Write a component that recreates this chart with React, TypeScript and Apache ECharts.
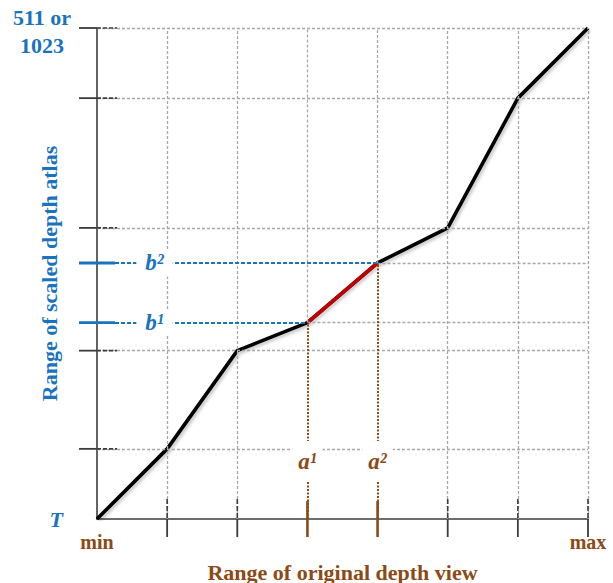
import React, { useEffect, useRef } from "react";
import * as echarts from "echarts";

// ---- data ----
const xLevels = [0, 1, 2, 3, 4, 5, 6, 7];
const mapping = [0, 1.0, 2.4, 2.8, 3.65, 4.15, 6.0, 7.0];
const grayYTicks = [1.0, 2.4, 4.15, 6.0, 7.0];
const grayXTicks = [1, 2, 5, 6, 7];
const highlightX = [3, 4];
const aLabels = ["a\u00B9", "a\u00B2"];
const bLabels = ["b\u00B9", "b\u00B2"];
const xEndLabels = ["min", "max"];
const yTopLabel = "511 or\n1023";
const yBottomLabel = "T";
const xName = "Range of original depth view";
const yName = "Range of scaled depth atlas";

// ---- style ----
const BLUE = "#1A73BE";
const BROWN = "#8C4A17";
const GRID = "#A8A8A8";
const AXIS = "#3C3C3C";
const FONT = "Liberation Serif";
const XMIN = 0;
const XMAX = 7;
const YMIN = 0;
const YMAX = 7;
const LABEL_OFFSET = 0.82;
const TICK_OUT = 18;
const TICK_IN = 20;

export default function App() {
  const ref = useRef<HTMLDivElement>(null);

  useEffect(() => {
    document.body.style.margin = "0";
    if (!ref.current) return;
    const chart = echarts.init(ref.current, undefined, { renderer: "svg" });

    const bLevels = highlightX.map((x) => mapping[xLevels.indexOf(x)]);

    // grid & guide lines
    const gray = { color: GRID, width: 1.3, type: [3, 2] as number[] };
    const markData: any[] = [];
    grayYTicks.forEach((y) => {
      markData.push([{ coord: [XMIN, y], lineStyle: gray }, { coord: [XMAX, y] }]);
    });
    xLevels.forEach((x) => {
      if (x === XMIN) return;
      if (highlightX.includes(x)) return;
      markData.push([{ coord: [x, YMIN], lineStyle: gray }, { coord: [x, YMAX] }]);
    });
    highlightX.forEach((x, i) => {
      const m = bLevels[i];
      markData.push([{ coord: [x, m], lineStyle: gray }, { coord: [x, YMAX] }]);
      markData.push([{ coord: [x, m], lineStyle: gray }, { coord: [XMAX, m] }]);
    });
    highlightX.forEach((x, i) => {
      const m = bLevels[i];
      markData.push([{ coord: [XMIN, m], lineStyle: { color: BLUE, width: 2, type: [4, 2] } }, { coord: [x, m] }]);
      markData.push([{ coord: [x, YMIN], lineStyle: { color: BROWN, width: 2, type: [2, 1.5] } }, { coord: [x, m] }]);
    });

    const lineData = xLevels.map((x, i) => [x, mapping[i]]);
    const redData = highlightX.map((x, i) => [x, bLevels[i]]);

    const labelCommon = {
      show: true,
      position: "inside" as const,
      formatter: (p: any) => p.name,
      fontWeight: "bold" as const,
      fontStyle: "italic" as const,
      fontSize: 23,
      fontFamily: FONT,
      backgroundColor: "#ffffff",
      opacity: 1,
    };

    const shadow = { shadowColor: "rgba(0,0,0,0.22)", shadowBlur: 3, shadowOffsetX: 2, shadowOffsetY: 2 };

    chart.setOption({
      animation: false,
      grid: { left: 97, top: 28, width: 491, height: 491, containLabel: false, outerBoundsMode: "none" },
      xAxis: {
        type: "value",
        min: XMIN,
        max: XMAX,
        splitLine: { show: false },
        axisTick: { show: false },
        axisLine: { show: true, onZero: false, lineStyle: { color: AXIS, width: 1.6 } },
        axisLabel: {
          show: true,
          customValues: [XMIN, XMAX],
          formatter: (v: number) => (v === XMIN ? xEndLabels[0] : xEndLabels[1]),
          color: BROWN,
          fontWeight: "bold",
          fontSize: 20,
          fontFamily: FONT,
          margin: 13,
        },
        name: xName,
        nameLocation: "middle",
        nameGap: 42,
        nameMoveOverlap: false,
        nameTextStyle: { color: BROWN, fontWeight: "bold", fontSize: 22, fontFamily: FONT },
      },
      yAxis: {
        type: "value",
        min: YMIN,
        max: YMAX,
        splitLine: { show: false },
        axisTick: { show: false },
        axisLine: { show: true, onZero: false, lineStyle: { color: AXIS, width: 1.6 } },
        axisLabel: {
          show: true,
          customValues: [YMIN, YMAX],
          formatter: (v: number) => (v === YMAX ? "{top|" + yTopLabel.split("\n").join("}\n{top|") + "}" : "{t|" + yBottomLabel + "}"),
          rich: {
            top: {
              color: BLUE,
              fontWeight: "bold",
              fontSize: 22,
              lineHeight: 28,
              fontFamily: FONT,
              align: "center",
              width: 70,
            },
            t: {
              color: BLUE,
              fontWeight: "bold",
              fontStyle: "italic",
              fontSize: 22,
              fontFamily: FONT,
              align: "right",
              width: 70,
              padding: [0, 14, 6, 0],
            },
          },
          margin: 20,
          align: "right",
          padding: [7, 0, 0, 0],
        },
        name: yName,
        nameLocation: "middle",
        nameGap: 37,
        nameMoveOverlap: false,
        nameTextStyle: { color: BLUE, fontWeight: "bold", fontSize: 22, fontFamily: FONT },
      },
      series: [
        {
          type: "line",
          data: [],
          silent: true,
          z: 1,
          markLine: {
            silent: true,
            symbol: ["none", "none"],
            label: { show: false },
            emphasis: { disabled: true },
            animation: false,
            data: markData,
          },
        },
        {
          type: "line",
          data: lineData,
          symbol: "none",
          silent: true,
          z: 3,
          lineStyle: { color: "#000", width: 3.6, ...shadow },
        },
        {
          type: "line",
          data: redData,
          symbol: "none",
          silent: true,
          z: 4,
          lineStyle: { color: "#C00000", width: 3.6 },
        },
        {
          type: "scatter",
          z: 5,
          silent: true,
          symbolSize: 1,
          itemStyle: { color: "#ffffff", opacity: 1 },
          data: highlightX.map((x, i) => ({ name: bLabels[i], value: [LABEL_OFFSET, bLevels[i]] })),
          label: { ...labelCommon, color: BLUE, padding: [2, 9] },
        },
        {
          type: "scatter",
          z: 5,
          silent: true,
          symbolSize: 1,
          itemStyle: { color: "#ffffff", opacity: 1 },
          data: highlightX.map((x, i) => ({ name: aLabels[i], value: [x, LABEL_OFFSET] })),
          label: { ...labelCommon, color: BROWN, padding: [9, 6] },
        },
      ],
    });

    // ticks placed through the axis scales
    const toPx = (v: number[]) => chart.convertToPixel({ xAxisIndex: 0, yAxisIndex: 0 }, v) as number[];
    const g: any[] = [];
    const seg = (x1: number, y1: number, x2: number, y2: number, stroke: string, lineWidth: number, dash?: number[]) => ({
      type: "line",
      silent: true,
      z: 10,
      shape: { x1, y1, x2, y2 },
      style: { stroke, lineWidth, lineDash: dash },
    });
    grayYTicks.forEach((y) => {
      const [px, py] = toPx([XMIN, y]);
      g.push(seg(px - TICK_OUT, py, px, py, AXIS, 1.8));
      g.push(seg(px, py, px + TICK_IN, py, AXIS, 1.6, [4, 2]));
    });
    grayXTicks.forEach((x) => {
      const [px, py] = toPx([x, YMIN]);
      g.push(seg(px, py, px, py + TICK_OUT, AXIS, 1.8));
      g.push(seg(px, py - TICK_IN, px, py, AXIS, 1.6, [5, 2]));
    });
    bLevels.forEach((y) => {
      const [px, py] = toPx([XMIN, y]);
      g.push(seg(px - TICK_OUT, py, px + TICK_OUT, py, BLUE, 2.8));
    });
    highlightX.forEach((x) => {
      const [px, py] = toPx([x, YMIN]);
      g.push(seg(px, py - TICK_OUT, px, py + TICK_OUT, BROWN, 2.6));
    });
    chart.setOption({ graphic: g });

    return () => chart.dispose();
  }, []);

  return <div ref={ref} style={{ width: 613, height: 583 }} />;
}
